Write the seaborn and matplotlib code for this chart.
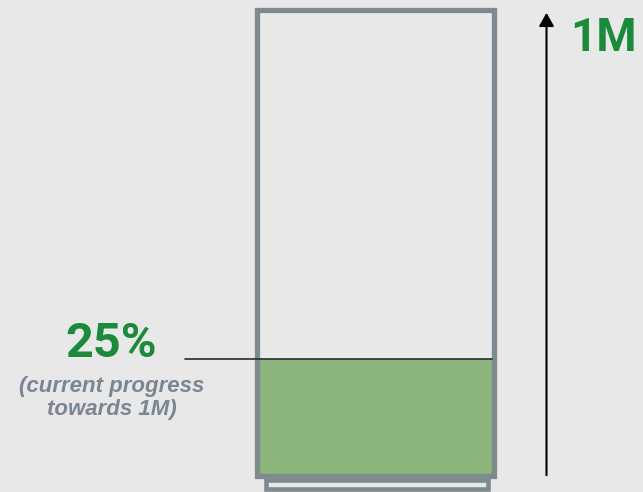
import matplotlib
matplotlib.use("Agg")
import matplotlib.pyplot as plt
import seaborn as sns
import pandas as pd
from matplotlib.patches import Rectangle, FancyArrowPatch

# data
goal_label = "1M"
progress_pct = [25]
goal_pct = [100]
progress_label = "25%"
progress_note = "(current progress\ntowards 1M)"

BG = "#e8e8e8"
OUTLINE = "#7e8a8d"
FILL = "#8bb57b"
GREEN = "#1b8a3b"
NOTE = "#7a8692"

sns.set_theme(style="white")
plt.rcParams["font.family"] = ["Roboto", "DejaVu Sans"]

W, H, DPI = 643, 492, 100
fig = plt.figure(figsize=(W / DPI, H / DPI), dpi=DPI, facecolor=BG)

# axes covering the thermometer box (pixel centres of the outline)
left, right, top, bottom = 256.5, 494.5, 9.5, 475.5
ax = fig.add_axes([left / W, 1 - bottom / H, (right - left) / W, (bottom - top) / H])
ax.set_facecolor(BG)

df = pd.DataFrame({"x": ["goal"], "goal": goal_pct, "progress": progress_pct})
sns.barplot(data=df, x="x", y="progress", color=FILL, width=1.0, saturation=1,
            ax=ax, linewidth=0)
sns.barplot(data=df, x="x", y="goal", width=1.0, fill=False, ax=ax,
            edgecolor=OUTLINE, linewidth=3.8)
for p in ax.patches:
    p.set_clip_on(False)
    p.set_zorder(3)
ax.set_xlim(-0.5, 0.5)
ax.set_ylim(0, 100)
ax.axis("off")

# base under the box
base = Rectangle((0.042, -0.030), 0.929, 0.0204, transform=ax.transAxes,
                 facecolor=BG, edgecolor=OUTLINE, linewidth=3.3, clip_on=False,
                 zorder=1)
ax.add_patch(base)

# marker line at current progress
trans = ax.get_yaxis_transform()
ax.plot([-0.30, 0.99], [progress_pct[0]] * 2, color="#2b2b2b", lw=1.2,
        transform=trans, clip_on=False, zorder=5)

# progress labels
ax.text(-0.609, progress_pct[0] + 0.5, progress_label, transform=trans,
        ha="center", va="baseline", fontsize=35, fontweight="bold", color=GREEN)
ax.text(-0.607, progress_pct[0] - 3.6, progress_note, transform=trans,
        ha="center", va="top", fontsize=16, style="italic", fontweight="bold",
        color=NOTE, family=["Liberation Sans", "DejaVu Sans"], linespacing=1.12)

# arrow to goal
fig.patches.append(FancyArrowPatch(
    (546.5 / W, 1 - 478 / H), (546.5 / W, 1 - 10 / H), transform=fig.transFigure,
    arrowstyle="-|>,head_length=8,head_width=4.5", color="black", lw=1.5))
fig.text(603.5 / W, 1 - 51 / H, goal_label, ha="center", va="baseline",
         fontsize=33, fontweight="bold", color=GREEN)

fig.savefig("out.png", dpi=DPI, facecolor=BG)
